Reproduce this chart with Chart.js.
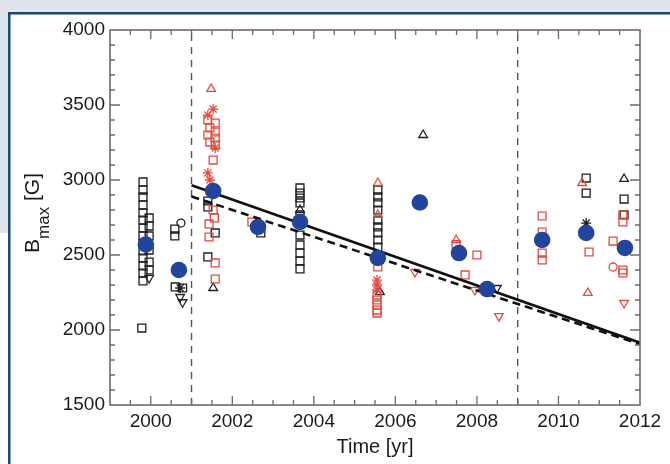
<!DOCTYPE html>
<html>
<head>
<meta charset="utf-8">
<script src="https://cdn.jsdelivr.net/npm/chart.js@4"></script>
<style>
  html, body { margin: 0; padding: 0; background: #dfe4ec; }
  canvas { display: block; }
</style>
</head>
<body>
<canvas id="c" width="670" height="464"></canvas>
<script>
// ---- tick labels ----
const xTickValues = [2000, 2002, 2004, 2006, 2008, 2010, 2012];
const yTickValues = [1500, 2000, 2500, 3000, 3500, 4000];

// ---- averaged values (large blue dots) ----
const bluePoints = [
  [1999.88, 2570], [2000.69, 2400], [2001.53, 2927], [2002.63, 2687],
  [2003.66, 2720], [2005.57, 2480], [2006.60, 2850], [2007.56, 2513],
  [2008.25, 2273], [2009.60, 2600], [2010.68, 2647], [2011.63, 2547]
];

// ---- black symbols ----
const blackSquares = [
  [1999.81, 2987], [1999.81, 2933], [1999.81, 2887], [1999.81, 2833], [1999.81, 2780],
  [1999.81, 2733], [1999.81, 2680], [1999.81, 2627], [1999.81, 2580], [1999.81, 2527],
  [1999.81, 2480], [1999.81, 2427], [1999.81, 2380], [1999.81, 2327], [1999.78, 2013],
  [1999.96, 2747], [1999.96, 2693], [1999.96, 2627], [1999.96, 2533], [1999.96, 2453], [1999.96, 2400],
  [2000.59, 2673], [2000.59, 2627], [2000.60, 2287], [2000.78, 2280],
  [2001.40, 2860], [2001.40, 2820], [2001.58, 2647], [2001.40, 2487],
  [2002.70, 2647],
  [2003.66, 2947], [2003.66, 2913], [2003.66, 2880], [2003.66, 2847], [2003.66, 2767],
  [2003.66, 2633], [2003.66, 2567], [2003.66, 2513], [2003.66, 2460], [2003.66, 2407],
  [2005.57, 2933], [2005.57, 2887], [2005.57, 2847], [2005.57, 2800], [2005.57, 2733],
  [2005.57, 2687], [2005.57, 2647], [2005.57, 2600], [2005.57, 2553],
  [2010.68, 3013], [2010.68, 2913],
  [2011.61, 2873], [2011.61, 2767]
];
const blackTriangles = [
  [2001.53, 2280], [2003.66, 2800], [2005.62, 2253], [2006.68, 3300], [2011.61, 3007]
];
const blackCircles = [[2000.74, 2713]];
const blackStars = [[2000.72, 2280], [2010.68, 2713]];
const blackDownTriangles = [
  [1999.96, 2347], [2000.72, 2220], [2000.78, 2185], [2008.49, 2280]
];

// ---- red symbols ----
const redSquares = [
  [2001.40, 3400], [2001.58, 3380], [2001.45, 3347], [2001.58, 3320], [2001.40, 3300],
  [2001.58, 3280], [2001.45, 3253], [2001.58, 3233], [2001.53, 3133], [2001.53, 2800],
  [2001.56, 2747], [2001.43, 2707], [2001.43, 2620], [2001.58, 2447], [2001.58, 2340],
  [2002.48, 2720],
  [2005.57, 2420], [2005.55, 2233], [2005.55, 2200], [2005.55, 2167], [2005.55, 2133], [2005.55, 2113],
  [2007.49, 2570], [2008.00, 2500], [2007.71, 2367],
  [2009.60, 2760], [2009.60, 2653], [2009.60, 2513], [2009.60, 2467],
  [2010.75, 2520],
  [2011.58, 2767], [2011.58, 2720], [2011.58, 2400], [2011.58, 2380], [2011.34, 2593]
];
const redTriangles = [
  [2001.48, 3607], [2005.57, 2980], [2005.57, 2767], [2007.49, 2600], [2010.58, 2980], [2010.72, 2247]
];
const redStars = [
  [2001.53, 3473], [2001.40, 3433], [2001.58, 3213], [2001.40, 3047], [2001.45, 3000],
  [2005.55, 2333], [2005.55, 2300], [2005.55, 2267]
];
const redCircles = [[2011.34, 2420]];
const redDownTriangles = [[2006.48, 2387], [2007.95, 2267], [2008.54, 2093], [2011.61, 2180]];

// ---- fit lines and period markers ----
const fitSolid = [[2001.0, 2965], [2012.0, 1915]];
const fitDashed = [[2001.0, 2890], [2012.0, 1905]];
const periodLineYears = [2001, 2009];
const yRange = [1500, 4000];
const xRange = [1999, 2012];

// ---------------------------------------------------------------
const toXY = arr => arr.map(p => ({ x: p[0], y: p[1] }));
const BLACK = '#1e1e1e';
const RED = '#e5493d';
const BLUE = '#21449c';

function sym(data, color, style, radius, rotation) {
  return {
    data: toXY(data),
    showLine: false,
    pointStyle: style,
    pointRadius: radius,
    pointRotation: rotation || 0,
    pointBorderColor: color,
    pointBackgroundColor: 'rgba(0,0,0,0)',
    pointBorderWidth: 1.3
  };
}

const datasets = [
  {
    data: toXY(bluePoints), showLine: false, pointStyle: 'circle', pointRadius: 8.3,
    pointBackgroundColor: BLUE, pointBorderColor: BLUE, pointBorderWidth: 0
  },
  {
    data: toXY(fitSolid), showLine: true, pointRadius: 0, borderColor: '#111',
    borderWidth: 2.6, fill: false
  },
  {
    data: toXY(fitDashed), showLine: true, pointRadius: 0, borderColor: '#111',
    borderWidth: 2.6, borderDash: [8, 5], fill: false
  },
  sym(redSquares, RED, 'rect', 5.6),
  sym(redTriangles, RED, 'triangle', 5),
  sym(redStars, RED, 'star', 5),
  sym(redCircles, RED, 'circle', 4),
  sym(redDownTriangles, RED, 'triangle', 5, 180),
  sym(blackSquares, BLACK, 'rect', 5.6),
  sym(blackTriangles, BLACK, 'triangle', 5),
  sym(blackCircles, BLACK, 'circle', 4),
  sym(blackStars, BLACK, 'star', 5),
  sym(blackDownTriangles, BLACK, 'triangle', 5, 180)
];
periodLineYears.forEach(yr => {
  datasets.push({
    data: [{ x: yr, y: yRange[0] }, { x: yr, y: yRange[1] }],
    showLine: true, pointRadius: 0, borderColor: '#555', borderWidth: 1.4,
    borderDash: [7, 6], fill: false
  });
});

const FONT = "'Liberation Sans', Arial, Helvetica, sans-serif";

const backdrop = {
  id: 'backdrop',
  beforeDraw(chart) {
    const c = chart.ctx;
    c.save();
    c.fillStyle = '#dfe4ec';
    c.fillRect(0, 0, chart.width, chart.height);
    c.fillStyle = '#ffffff';
    c.fillRect(0, 233, 9, chart.height - 233);
    c.fillRect(9, 13, chart.width - 9, chart.height - 13);
    c.strokeStyle = '#1b4778';
    c.lineWidth = 2.5;
    c.beginPath();
    c.moveTo(9.25, chart.height);
    c.lineTo(9.25, 13.25);
    c.lineTo(chart.width, 13.25);
    c.stroke();
    c.restore();
  }
};

const frame = {
  id: 'frame',
  afterDraw(chart) {
    const c = chart.ctx;
    const a = chart.chartArea;
    const xs = chart.scales.x, ys = chart.scales.y;
    c.save();
    c.strokeStyle = '#6b6b6b';
    c.lineWidth = 1.6;
    c.strokeRect(a.left, a.top, a.right - a.left, a.bottom - a.top);
    c.lineWidth = 1.3;
    c.beginPath();
    // x ticks: minor every 0.5 yr, major every 2 yr
    for (let v = 1999.5; v < 2012; v += 0.5) {
      const px = xs.getPixelForValue(v);
      const len = (Math.abs(v % 2) < 1e-6) ? 9 : 5;
      c.moveTo(px, a.bottom); c.lineTo(px, a.bottom - len);
      c.moveTo(px, a.top); c.lineTo(px, a.top + len);
    }
    // y ticks: minor every 100, major every 500
    for (let v = 1600; v < 4000; v += 100) {
      const py = ys.getPixelForValue(v);
      const len = (v % 500 === 0) ? 10 : 5;
      c.moveTo(a.left, py); c.lineTo(a.left + len, py);
      c.moveTo(a.right, py); c.lineTo(a.right - len, py);
    }
    c.stroke();

    // y axis title: B_max [G]
    const mainF = '21px ' + FONT, subF = '17px ' + FONT;
    c.font = mainF; const wB = c.measureText('B').width; const wG = c.measureText(' [G]').width;
    c.font = subF; const wM = c.measureText('max').width;
    const total = wB + wM + wG;
    c.translate(39, 213);
    c.rotate(-Math.PI / 2);
    c.fillStyle = '#1a1a1a';
    c.textBaseline = 'alphabetic';
    let x0 = -total / 2;
    c.font = mainF; c.fillText('B', x0, 0); x0 += wB;
    c.font = subF; c.fillText('max', x0, 10); x0 += wM;
    c.font = mainF; c.fillText(' [G]', x0, 0);
    c.restore();
  }
};

new Chart(document.getElementById('c'), {
  type: 'scatter',
  data: { datasets },
  options: {
    responsive: false,
    animation: false,
    devicePixelRatio: 1,
    layout: { padding: { top: 30, right: 30, left: 0, bottom: 0 } },
    plugins: { legend: { display: false }, tooltip: { enabled: false } },
    scales: {
      x: {
        type: 'linear', min: xRange[0], max: xRange[1],
        afterBuildTicks: s => { s.ticks = xTickValues.map(v => ({ value: v })); },
        afterFit: s => { s.height = 59; },
        grid: { display: false, drawTicks: false },
        border: { display: false },
        ticks: {
          autoSkip: false, maxRotation: 0, padding: 5, color: '#1a1a1a',
          font: { family: FONT, size: 19 },
          callback: v => String(v)
        },
        title: {
          display: true, text: 'Time [yr]', color: '#1a1a1a',
          font: { family: FONT, size: 20 }, padding: { top: 0, bottom: 5 }
        }
      },
      y: {
        type: 'linear', min: yRange[0], max: yRange[1],
        afterBuildTicks: s => { s.ticks = yTickValues.map(v => ({ value: v })); },
        afterFit: s => { s.width = 110; },
        grid: { display: false, drawTicks: false },
        border: { display: false },
        ticks: {
          autoSkip: false, padding: 5, color: '#1a1a1a',
          font: { family: FONT, size: 19 },
          callback: v => String(v)
        }
      }
    }
  },
  plugins: [backdrop, frame]
});
</script>
</body>
</html>
